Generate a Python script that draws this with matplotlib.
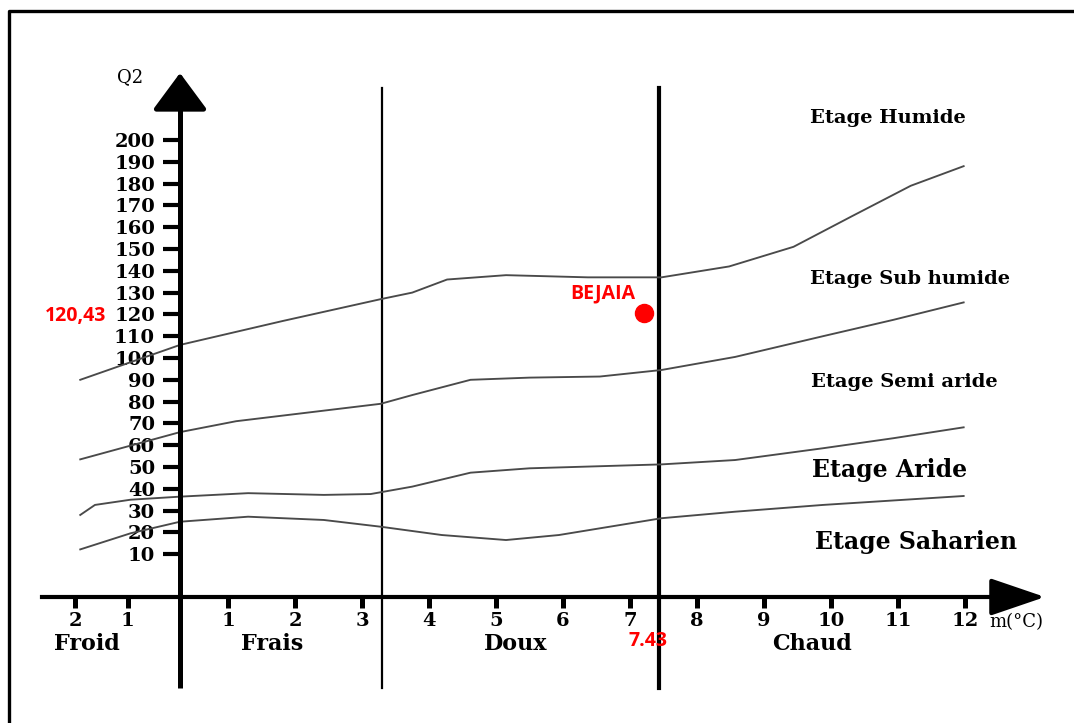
import numpy as np
import matplotlib
matplotlib.use("Agg")
import matplotlib.pyplot as plt
from matplotlib.lines import Line2D

# ---------------- data ----------------
m_hum = [-1.9, 0, 1.82, 3.28, 3.75, 4.27, 5.15, 6.37, 7.47, 8.48, 9.44, 10.31, 11.19, 11.98]
q_hum = [90, 106, 117, 127, 130, 136, 138, 137, 137, 142, 151, 165, 179, 188]

m_sub = [-1.9, 0, 1.12, 3.28, 3.75, 4.62, 5.5, 6.55, 7.47, 8.57, 9.88, 10.93, 11.98]
q_sub = [53.5, 66, 71, 79, 83, 90, 91, 91.5, 94.5, 100.5, 110, 117.5, 125.5]

m_semi = [-1.9, -1.62, -0.94, 0, 1.3, 2.43, 3.13, 3.75, 4.62, 5.5, 7.47, 8.57, 9.88, 10.93, 11.98]
q_semi = [28, 32.6, 35, 36.4, 38, 37.2, 37.6, 41, 47.4, 49.4, 51.2, 53.2, 58.6, 63.2, 68.2]

m_arid = [-1.9, -0.94, 0, 1.3, 2.43, 3.28, 4.19, 5.15, 5.94, 7.47, 8.57, 9.88, 11.98]
q_arid = [12.2, 19.6, 24.9, 27.2, 25.7, 22.6, 18.8, 16.5, 18.8, 26.5, 29.5, 32.6, 36.7]

x_ticks = [-2, -1, 1, 2, 3, 4, 5, 6, 7, 8, 9, 10, 11, 12]
x_tick_labels = ["2", "1", "1", "2", "3", "4", "5", "6", "7", "8", "9", "10", "11", "12"]
y_ticks = list(range(10, 210, 10))

station = "BEJAIA"
station_m = 7.21
station_q = 120.43
m_line = 7.43
frais_doux_line = 3.3

etages = ["Etage Humide", "Etage Sub humide", "Etage Semi aride", "Etage Aride", "Etage Saharien"]
etage_pos = [(10.85, 210.1), (11.18, 136.2), (11.10, 89.0), (10.88, 48.6), (11.27, 15.6)]
etage_size = [14, 14, 14, 17, 17]
zones = ["Froid", "Frais", "Doux", "Chaud"]
zone_x = [-1.77, 1.66, 5.30, 9.72]

# ---------------- figure ----------------
W, H = 1074, 723
fig = plt.figure(figsize=(W / 100, H / 100), dpi=100)
fig.patch.set_facecolor("white")
ax = fig.add_axes([0, 0, 1, 1])
ax.set_facecolor("none")

# piecewise scale reproducing the drawing's spacing of the m axis
def fwd(x):
    x = np.asarray(x, dtype=float)
    return np.where(x < 0, 52.5 * x, np.where(x < 1, 48 * x, 48 + 67 * (x - 1)))

def inv(u):
    u = np.asarray(u, dtype=float)
    return np.where(u < 0, u / 52.5, np.where(u < 48, u / 48, 1 + (u - 48) / 67))

ax.set_xscale("function", functions=(fwd, inv))
ax.set_xlim(-180 / 52.5, 1 + (W - 228) / 67)
ax.set_ylim((576 - H) / 2.18, 576 / 2.18)

serif = "DejaVu Serif"
xaxis_y = (576 - 597) / 2.18
y_bottom = (576 - 688) / 2.18
y_top = (576 - 88) / 2.18

# spines as axes
for s in ["top", "right"]:
    ax.spines[s].set_visible(False)
ax.spines["left"].set_position(("data", 0))
ax.spines["bottom"].set_position(("data", xaxis_y))
ax.spines["left"].set_linewidth(3.6)
ax.spines["bottom"].set_linewidth(3.0)
ax.spines["left"].set_bounds(y_bottom, 220)
ax.spines["bottom"].set_bounds(-2.63, 12.6)
ax.spines["left"].set_capstyle("butt")

ax.set_xticks(x_ticks)
ax.set_xticklabels(x_tick_labels)
ax.set_yticks(y_ticks)
ax.set_yticklabels([str(v) for v in y_ticks])
ax.tick_params(axis="x", direction="out", length=8, width=3.6, pad=3,
               labelsize=14)
ax.tick_params(axis="y", direction="out", length=12, width=3.0, pad=6,
               labelsize=14)
ax.xaxis.set_minor_locator(matplotlib.ticker.NullLocator())
for lab in ax.get_xticklabels() + ax.get_yticklabels():
    lab.set_fontfamily(serif)
    lab.set_fontweight("bold")

# axis arrows
ax.annotate("", xy=(0, (576 - 73) / 2.18), xytext=(0, 215),
            arrowprops=dict(arrowstyle="-|>,head_length=1.15,head_width=0.85",
                            mutation_scale=20, lw=3.6, color="black",
                            shrinkA=0, shrinkB=0))
ax.annotate("", xy=(1 + (1045 - 228) / 67, xaxis_y), xytext=(12.5, xaxis_y),
            arrowprops=dict(arrowstyle="-|>,head_length=1.7,head_width=0.58",
                            mutation_scale=20, lw=3.0, color="black",
                            shrinkA=0, shrinkB=0))

# vertical separators
ax.plot([frais_doux_line, frais_doux_line], [y_bottom, y_top], color="black", lw=1.6)
ax.plot([m_line, m_line], [y_bottom, y_top], color="black", lw=3.0)

# bioclimatic limits
lc = "#4a4a4a"
for mm, qq in [(m_hum, q_hum), (m_sub, q_sub), (m_semi, q_semi), (m_arid, q_arid)]:
    ax.plot(mm, qq, color=lc, lw=1.35, solid_joinstyle="round")

# station
ax.plot([station_m], [station_q], "o", color="#ff0000", markersize=13, zorder=5)
ax.text(6.60, 129.8, station, color="#ff0000", fontsize=14, fontweight="bold",
        family="Open Sans", ha="center", va="center")
ax.text(-1.98, 119.3, "120,43", color="#ff0000", fontsize=14, fontweight="bold",
        family="Open Sans", ha="center", va="center")
ax.text(7.27, -29.8, "7.43", color="#ff0000", fontsize=14, fontweight="bold",
        family="Open Sans", ha="center", va="center")

# labels
ax.text(-0.952, 228.9, "Q2", family=serif, fontsize=13, ha="center", va="center")
ax.text(12.76, -21.1, "m(°C)", family=serif, fontsize=13, ha="center", va="center")
for name, (xx, yy), fs in zip(etages, etage_pos, etage_size):
    ax.text(xx, yy, name, family=serif, fontweight="bold", fontsize=fs,
            ha="center", va="center")
for name, xx in zip(zones, zone_x):
    ax.text(xx, -31.2, name, family=serif, fontweight="bold", fontsize=16,
            ha="center", va="center")

# outer frame (left and top edges visible)
fig.add_artist(Line2D([9 / W, 9 / W, 1.0], [0.0, 1 - 11 / H, 1 - 11 / H],
                      transform=fig.transFigure, color="black", lw=2.4))

fig.savefig("out.png", dpi=100, facecolor="white")
